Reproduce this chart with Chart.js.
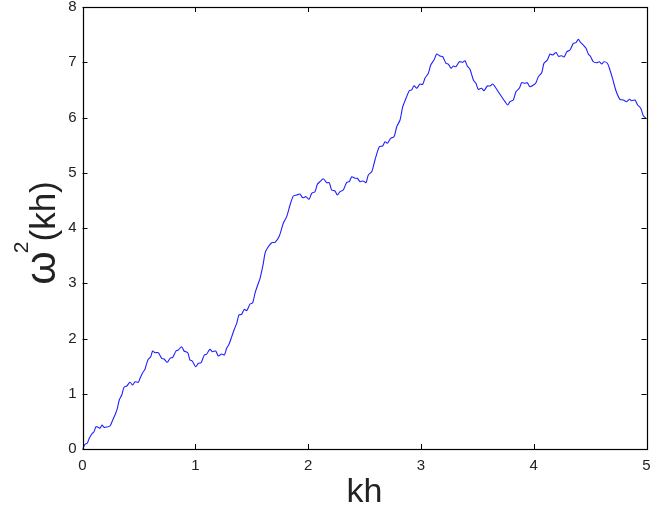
<!DOCTYPE html>
<html>
<head>
<meta charset="utf-8">
<script src="https://cdn.jsdelivr.net/npm/chart.js@4/dist/chart.umd.min.js"></script>
<style>
  html, body { margin: 0; padding: 0; background: #ffffff; }
  #wrap { width: 669px; height: 511px; }
</style>
</head>
<body>
<div id="wrap"><canvas id="c" width="669" height="511"></canvas></div>
<script>
// Data
const khValues = [
  0.000, 0.022, 0.043, 0.060, 0.082, 0.102, 0.120, 0.140, 0.155, 0.173,
  0.191, 0.217, 0.244, 0.268, 0.288, 0.309, 0.326, 0.348, 0.368, 0.392,
  0.421, 0.445, 0.465, 0.495, 0.510, 0.534, 0.554, 0.569, 0.583, 0.605,
  0.622, 0.643, 0.672, 0.702, 0.723, 0.752, 0.776, 0.800, 0.829, 0.849,
  0.879, 0.900, 0.933, 0.953, 0.973, 1.004, 1.027, 1.051, 1.080, 1.101,
  1.130, 1.151, 1.181, 1.204, 1.234, 1.257, 1.278, 1.299, 1.323, 1.346,
  1.367, 1.387, 1.411, 1.434, 1.456, 1.485, 1.509, 1.529, 1.553, 1.574,
  1.603, 1.618, 1.638, 1.677, 1.707, 1.745, 1.780, 1.810, 1.840, 1.869,
  1.899, 1.928, 1.952, 1.981, 2.008, 2.032, 2.061, 2.082, 2.105, 2.135,
  2.165, 2.188, 2.209, 2.238, 2.259, 2.283, 2.312, 2.342, 2.365, 2.387,
  2.416, 2.436, 2.460, 2.489, 2.513, 2.534, 2.564, 2.593, 2.631, 2.661,
  2.682, 2.702, 2.732, 2.762, 2.786, 2.815, 2.839, 2.868, 2.897, 2.918,
  2.939, 2.963, 2.992, 3.016, 3.036, 3.066, 3.087, 3.116, 3.140, 3.169,
  3.193, 3.223, 3.243, 3.267, 3.287, 3.311, 3.340, 3.371, 3.391, 3.411,
  3.435, 3.465, 3.488, 3.509, 3.539, 3.559, 3.589, 3.613, 3.637, 3.657,
  3.686, 3.716, 3.746, 3.770, 3.790, 3.819, 3.843, 3.872, 3.894, 3.923,
  3.943, 3.967, 3.997, 4.020, 4.041, 4.071, 4.091, 4.121, 4.145, 4.168,
  4.198, 4.220, 4.248, 4.269, 4.295, 4.322, 4.351, 4.375, 4.395, 4.417,
  4.440, 4.464, 4.484, 4.505, 4.528, 4.559, 4.582, 4.603, 4.623, 4.653,
  4.676, 4.700, 4.730, 4.765, 4.794, 4.824, 4.848, 4.869, 4.898, 4.922,
  4.949, 4.972, 5.000
];
const omegaSqValues = [
  0.000, 0.085, 0.109, 0.194, 0.271, 0.313, 0.404, 0.393, 0.375, 0.434,
  0.393, 0.398, 0.416, 0.525, 0.615, 0.737, 0.887, 0.977, 1.117, 1.140,
  1.207, 1.158, 1.218, 1.207, 1.280, 1.381, 1.443, 1.551, 1.624, 1.671,
  1.774, 1.743, 1.743, 1.642, 1.629, 1.569, 1.642, 1.660, 1.774, 1.792,
  1.852, 1.774, 1.743, 1.611, 1.593, 1.490, 1.551, 1.562, 1.701, 1.719,
  1.805, 1.761, 1.774, 1.683, 1.719, 1.701, 1.823, 1.895, 2.033, 2.167,
  2.275, 2.425, 2.438, 2.528, 2.503, 2.624, 2.648, 2.818, 2.968, 3.090,
  3.361, 3.542, 3.633, 3.734, 3.741, 3.855, 4.085, 4.205, 4.416, 4.579,
  4.597, 4.615, 4.548, 4.567, 4.519, 4.628, 4.657, 4.791, 4.838, 4.892,
  4.820, 4.820, 4.688, 4.670, 4.597, 4.657, 4.688, 4.827, 4.838, 4.928,
  4.900, 4.900, 4.838, 4.851, 4.820, 4.959, 5.019, 5.231, 5.471, 5.484,
  5.562, 5.533, 5.624, 5.652, 5.833, 5.955, 6.195, 6.348, 6.485, 6.498,
  6.576, 6.529, 6.606, 6.601, 6.710, 6.800, 6.950, 7.041, 7.149, 7.113,
  7.100, 6.981, 6.968, 6.890, 6.932, 6.919, 7.010, 6.999, 7.028, 6.932,
  6.872, 6.679, 6.619, 6.510, 6.528, 6.485, 6.570, 6.570, 6.606, 6.557,
  6.467, 6.376, 6.286, 6.226, 6.286, 6.317, 6.467, 6.528, 6.630, 6.619,
  6.630, 6.557, 6.588, 6.630, 6.739, 6.811, 6.981, 7.041, 7.149, 7.131,
  7.176, 7.108, 7.117, 7.095, 7.191, 7.222, 7.343, 7.354, 7.415, 7.354,
  7.312, 7.252, 7.149, 7.100, 7.010, 6.992, 7.010, 6.968, 7.010, 6.981,
  6.860, 6.700, 6.480, 6.329, 6.317, 6.286, 6.329, 6.304, 6.317, 6.226,
  6.167, 6.030, 5.980
];
const xTickValues = [0, 1, 2, 3, 4, 5];
const yTickValues = [0, 1, 2, 3, 4, 5, 6, 7, 8];
const xAxisLabel = 'kh';
// y-axis label pieces: base, superscript, rest  ->  ω²(kh)
const yAxisLabelParts = ['ω', '2', '(kh)'];

const points = khValues.map((k, i) => ({ x: k, y: omegaSqValues[i] }));

const FONT = '"Liberation Sans", Arial, Helvetica, sans-serif';

// Box + inward tick marks on all four sides (positions from the library's scales)
const boxTicks = {
  id: 'boxTicks',
  afterDraw(chart) {
    const { ctx, chartArea: a, scales } = chart;
    const len = 5;
    ctx.save();
    ctx.strokeStyle = '#000';
    ctx.lineWidth = 1;
    ctx.beginPath();
    xTickValues.forEach(v => {
      const px = Math.round(scales.x.getPixelForValue(v)) + 0.5;
      ctx.moveTo(px, a.bottom); ctx.lineTo(px, a.bottom - len);
      ctx.moveTo(px, a.top); ctx.lineTo(px, a.top + len);
    });
    yTickValues.forEach(v => {
      const py = Math.round(scales.y.getPixelForValue(v)) + 0.5;
      ctx.moveTo(a.left, py); ctx.lineTo(a.left + len, py);
      ctx.moveTo(a.right, py); ctx.lineTo(a.right - len, py);
    });
    ctx.stroke();
    ctx.lineWidth = 1.2;
    ctx.strokeRect(Math.round(a.left) + 0.5, Math.round(a.top) + 0.5,
                   Math.round(a.right - a.left), Math.round(a.bottom - a.top));

    // Rotated y-axis title with a raised superscript
    const cy = (a.top + a.bottom) / 2;
    ctx.fillStyle = '#222';
    ctx.textBaseline = 'alphabetic';
    ctx.textAlign = 'left';
    const fBase = '43px ' + FONT, fSup = '21px ' + FONT, fRest = '35px ' + FONT;
    ctx.font = fBase; const w0 = ctx.measureText(yAxisLabelParts[0]).width;
    ctx.font = fSup;  const w1 = ctx.measureText(yAxisLabelParts[1]).width;
    ctx.font = fRest; const w2 = ctx.measureText(yAxisLabelParts[2]).width;
    const total = w0 + w1 - 2 + w2;
    ctx.translate(55, cy + total / 2 + 5);
    ctx.rotate(-Math.PI / 2);
    ctx.font = fBase; ctx.fillText(yAxisLabelParts[0], 0, 0);
    ctx.font = fSup;  ctx.fillText(yAxisLabelParts[1], w0 - 2, -27);
    ctx.font = fRest; ctx.fillText(yAxisLabelParts[2], w0 + w1 - 2, 0);
    ctx.restore();
  }
};

new Chart(document.getElementById('c'), {
  type: 'line',
  data: {
    datasets: [{
      data: points,
      borderColor: '#1f1fff',
      borderWidth: 1.1,
      pointRadius: 0,
      tension: 0.25,
      fill: false
    }]
  },
  options: {
    responsive: false,
    animation: false,
    devicePixelRatio: 1,
    layout: { padding: { top: 7, right: 22.5, left: 0, bottom: 0 } },
    plugins: { legend: { display: false }, tooltip: { enabled: false } },
    scales: {
      x: {
        type: 'linear',
        min: 0, max: 5,
        afterBuildTicks: s => { s.ticks = xTickValues.map(v => ({ value: v })); },
        afterFit: s => { s.height = 62; s.paddingLeft = 0; s.paddingRight = 0; },
        grid: { display: false, drawTicks: false, tickLength: 0 },
        border: { display: false },
        ticks: { color: '#222', font: { family: FONT, size: 15 }, padding: 8, maxRotation: 0 },
        title: {
          display: true, text: xAxisLabel, color: '#222',
          font: { family: FONT, size: 34, lineHeight: 1 },
          padding: { top: 0, bottom: 1 }
        }
      },
      y: {
        type: 'linear',
        min: 0, max: 8,
        afterBuildTicks: s => { s.ticks = yTickValues.map(v => ({ value: v })); },
        afterFit: s => { s.width = 82.5; s.paddingTop = 0; s.paddingBottom = 0; },
        grid: { display: false, drawTicks: false, tickLength: 0 },
        border: { display: false },
        ticks: { color: '#222', font: { family: FONT, size: 15 }, padding: 6 },
        title: { display: false }
      }
    }
  },
  plugins: [boxTicks]
});
</script>
</body>
</html>
